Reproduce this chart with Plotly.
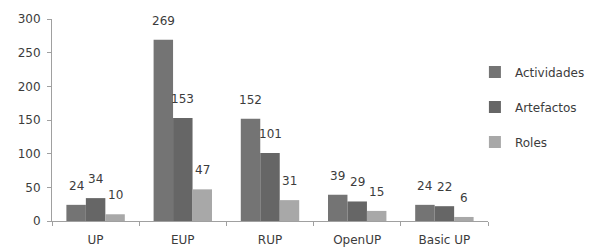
import plotly.graph_objects as go

categories = ["UP", "EUP", "RUP", "OpenUP", "Basic UP"]
actividades = [24, 269, 152, 39, 24]
artefactos = [34, 153, 101, 29, 22]
roles = [10, 47, 31, 15, 6]
series_names = ["Actividades", "Artefactos", "Roles"]
colors = ["#747474", "#666666", "#a8a8a8"]
y_ticks = [0, 50, 100, 150, 200, 250, 300]

# page body has an 8px margin, so the figure is sized to the visible window
W, H = 587, 240
ml, mr, mt, mb = 44, 107, 11, 27
bargap = 0.33
plot_w = W - ml - mr
bar_px = plot_w / len(categories) * (1 - bargap) / 3

font = dict(family="DejaVu Sans", size=12, color="#3c3c3c")

fig = go.Figure()
all_series = [actividades, artefactos, roles]
for i, (name, vals, col) in enumerate(zip(series_names, all_series, colors)):
    fig.add_trace(go.Bar(x=categories, y=vals, name=name, marker_color=col,
                         marker_line_width=0, legendgroup=name))
    for c, v in zip(categories, vals):
        fig.add_annotation(x=c, y=v, text=str(v), showarrow=False,
                           xshift=(i - 1) * bar_px, yshift=19, yanchor="middle",
                           font=font)

fig.update_layout(
    width=W, height=H,
    margin=dict(l=ml, r=mr, t=mt, b=mb, autoexpand=False),
    paper_bgcolor="white", plot_bgcolor="white",
    barmode="group", bargap=bargap, bargroupgap=0,
    font=font,
    legend=dict(x=0.97, y=0.81, xanchor="left", yanchor="top",
                tracegroupgap=16, font=dict(family="DejaVu Sans", size=12, color="#3c3c3c"),
                itemwidth=30),
    xaxis=dict(showline=True, linecolor="#a0a0a0", linewidth=1, ticks="outside",
               tickson="boundaries", ticklen=4, tickcolor="#a0a0a0",
               ticklabelstandoff=8, showgrid=False, automargin=False),
    yaxis=dict(range=[0, 300], tickvals=y_ticks, showline=True, linecolor="#a0a0a0",
               linewidth=1, ticks="outside", ticklen=4, tickcolor="#a0a0a0",
               showgrid=False, zeroline=False, ticklabelstandoff=4, automargin=False),
)

fig.write_html("out.html")
